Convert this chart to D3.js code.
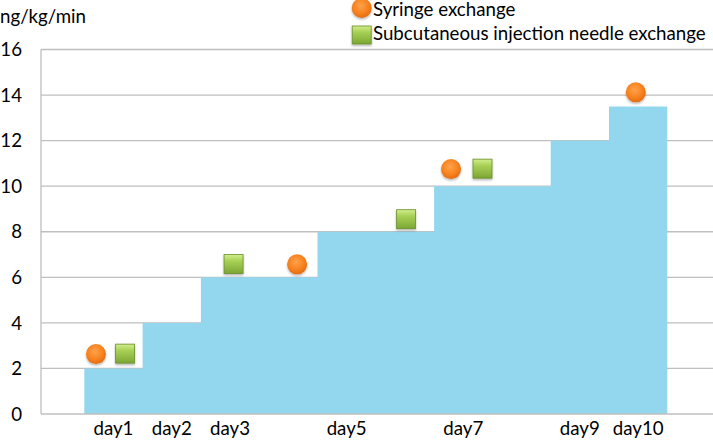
<!DOCTYPE html>
<html><head><meta charset="utf-8">
<script src="https://cdn.jsdelivr.net/npm/d3@7"></script>
<style>
html,body{margin:0;padding:0;background:#fff;}
svg text{font-family:Lato, "Liberation Sans", sans-serif;fill:#000;}
</style></head>
<body>
<svg id="c" width="713" height="443"></svg>
<script>
// ---- data ----
const dayLabels = ["day1","day2","day3","","day5","","day7","","day9","day10"];
const dailyRate = [2,4,6,6,8,8,10,10,12,13.5];           // ng/kg/min per day (step area)
const yTicks = [0,2,4,6,8,10,12,14,16];
const syringeX = [0.20, 3.65, 6.29, 9.46];                // position in days from start
const syringeY = [2.63, 6.57, 10.75, 14.12];
const needleX  = [0.70, 2.56, 5.52, 6.83];
const needleY  = [2.65, 6.58, 8.55, 10.77];
const legendNames = ["Syringe exchange","Subcutaneous injection needle exchange"];
const yUnit = "ng/kg/min";

// ---- layout ----
const svg = d3.select("#c");
const x = d3.scaleLinear().domain([-0.743, 10.784]).range([41, 713]);
const y = d3.scaleLinear().domain([0, 16]).range([414, 49.5]);
const fs = 18.7;

const defs = svg.append("defs");
const rg = defs.append("radialGradient").attr("id","org").attr("cx","45%").attr("cy","38%").attr("r","65%");
rg.append("stop").attr("offset","0%").attr("stop-color","#ffa24c");
rg.append("stop").attr("offset","60%").attr("stop-color","#f7821f");
rg.append("stop").attr("offset","100%").attr("stop-color","#e06a10");
const lg = defs.append("linearGradient").attr("id","grn").attr("x1",0).attr("y1",0).attr("x2",0).attr("y2",1);
lg.append("stop").attr("offset","0%").attr("stop-color","#d2ee8c");
lg.append("stop").attr("offset","35%").attr("stop-color","#a6d054");
lg.append("stop").attr("offset","100%").attr("stop-color","#7ca634");
const sh = defs.append("filter").attr("id","sh").attr("x","-50%").attr("y","-50%").attr("width","200%").attr("height","200%");
sh.append("feDropShadow").attr("dx",0).attr("dy",1.5).attr("stdDeviation",1.2).attr("flood-color","#000").attr("flood-opacity",0.3);

// gridlines
svg.append("g").selectAll("line").data(yTicks.filter(d=>d>0)).join("line")
  .attr("x1", 41).attr("x2", 713).attr("y1", d=>y(d)).attr("y2", d=>y(d))
  .attr("stroke","#bfbfbf").attr("stroke-width",1.3);

// step area
const pts = dailyRate.map((v,i)=>[i,v]).concat([[dailyRate.length, dailyRate[dailyRate.length-1]]]);
svg.append("path").datum(pts)
  .attr("d", d3.area().x(d=>x(d[0])).y0(y(0)).y1(d=>y(d[1])).curve(d3.curveStepAfter))
  .attr("fill","#93d7ee");

// axes lines
svg.append("line").attr("x1",41).attr("x2",41).attr("y1",y(16)).attr("y2",y(0)).attr("stroke","#bfbfbf").attr("stroke-width",1.3);
svg.append("line").attr("x1",41).attr("x2",713).attr("y1",y(0)).attr("y2",y(0)).attr("stroke","#bfbfbf").attr("stroke-width",1.3);

// y tick labels
svg.append("g").selectAll("text").data(yTicks).join("text")
  .attr("x", 22).attr("y", d=>y(d)).attr("dy","0.36em").attr("text-anchor","end")
  .attr("font-size", fs).text(d=>d);

// x labels
svg.append("g").selectAll("text").data(dayLabels).join("text")
  .attr("x", (d,i)=>x(i+0.5)).attr("y", 434.5).attr("text-anchor","middle")
  .attr("font-size", fs).text(d=>d);

// unit
svg.append("text").attr("x",0).attr("y",22.5).attr("font-size",fs).text(yUnit);

// markers
svg.append("g").selectAll("circle").data(syringeX.map((v,i)=>[v,syringeY[i]])).join("circle")
  .attr("cx", d=>x(d[0])).attr("cy", d=>y(d[1])).attr("r", 10)
  .attr("fill","url(#org)").attr("filter","url(#sh)");
svg.append("g").selectAll("rect").data(needleX.map((v,i)=>[v,needleY[i]])).join("rect")
  .attr("x", d=>x(d[0])-9.5).attr("y", d=>y(d[1])-9.5).attr("width",19).attr("height",19)
  .attr("fill","url(#grn)").attr("stroke","#6a8f2a").attr("stroke-width",0.8).attr("filter","url(#sh)");

// legend
const leg = svg.append("g");
leg.append("circle").attr("cx",361.7).attr("cy",8).attr("r",10).attr("fill","url(#org)").attr("filter","url(#sh)");
leg.append("rect").attr("x",352.2).attr("y",26).attr("width",19).attr("height",18)
  .attr("fill","url(#grn)").attr("stroke","#6a8f2a").attr("stroke-width",0.8).attr("filter","url(#sh)");
leg.append("text").attr("x",373).attr("y",15.5).attr("font-size",fs).text(legendNames[0]);
leg.append("text").attr("x",373).attr("y",40).attr("font-size",fs).text(legendNames[1]);
</script>
</body></html>
